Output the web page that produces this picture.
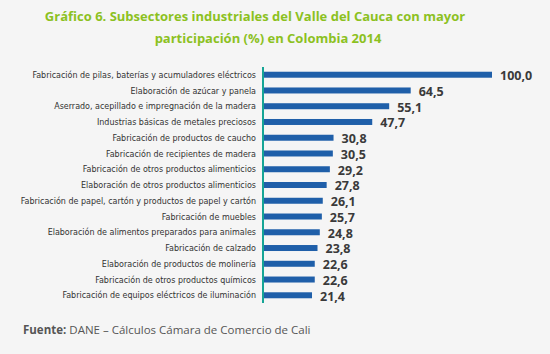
<!DOCTYPE html>
<html>
<head>
<meta charset="utf-8">
<script src="https://cdn.jsdelivr.net/npm/d3@7"></script>
<style>
  body { margin: 0; background: #f5f5f5; }
  svg { display: block; }
</style>
</head>
<body>
<div id="chart"></div>
<script>
const categories = [
  'Fabricación de pilas, baterías y acumuladores eléctricos',
  'Elaboración de azúcar y panela',
  'Aserrado, acepillado e impregnación de la madera',
  'Industrias básicas de metales preciosos',
  'Fabricación de productos de caucho',
  'Fabricación de recipientes de madera',
  'Fabricación de otros productos alimenticios',
  'Elaboración de otros productos alimenticios',
  'Fabricación de papel, cartón y productos de papel y cartón',
  'Fabricación de muebles',
  'Elaboración de alimentos preparados para animales',
  'Fabricación de calzado',
  'Elaboración de productos de molinería',
  'Fabricación de otros productos químicos',
  'Fabricación de equipos eléctricos de iluminación'
]
const values = [100.0, 64.5, 55.1, 47.7, 30.8, 30.5, 29.2, 27.8, 26.1, 25.7, 24.8, 23.8, 22.6, 22.6, 21.4]
const titleLines = [
  'Gráfico 6. Subsectores industriales del Valle del Cauca con mayor',
  'participación (%) en Colombia 2014'
]

const width = 550
const height = 354
const margin = { top: 67, left: 263, right: 58, bottom: 51 }

const svg = d3
  .select('#chart')
  .append('svg')
  .attr('width', width)
  .attr('height', height)
  .style('background', '#f5f5f5')

const x = d3
  .scaleLinear()
  .domain([0, 100])
  .range([margin.left, 492])

const y = d3
  .scaleBand()
  .domain(categories)
  .range([margin.top, height - margin.bottom])
  .paddingInner(0.62)
  .paddingOuter(0.3)

// title
svg
  .selectAll('.title')
  .data(titleLines)
  .enter()
  .append('text')
  .attr('class', 'title')
  .attr('x', (d, i) => (i === 0 ? 255 : 268))
  .attr('y', (d, i) => 21 + i * 22)
  .attr('text-anchor', 'middle')
  .attr('fill', '#8cc11f')
  .style('font-family', 'Open Sans')
  .style('font-weight', 'bold')
  .style('font-size', '13px')
  .text(d => d)

// bars
svg
  .selectAll('.bar')
  .data(values)
  .enter()
  .append('rect')
  .attr('class', 'bar')
  .attr('x', x(0))
  .attr('y', (d, i) => y(categories[i]))
  .attr('width', d => x(d) - x(0))
  .attr('height', y.bandwidth())
  .attr('fill', '#1f5fa9')

// category labels
svg
  .selectAll('.cat')
  .data(categories)
  .enter()
  .append('text')
  .attr('class', 'cat')
  .attr('x', margin.left - 7)
  .attr('y', d => y(d) + y.bandwidth() / 2)
  .attr('dy', '0.35em')
  .attr('text-anchor', 'end')
  .attr('fill', '#333')
  .style('font-family', 'DejaVu Sans Condensed')
  .style('font-size', '8.9px')
  .text(d => d)

// value labels
svg
  .selectAll('.val')
  .data(values)
  .enter()
  .append('text')
  .attr('class', 'val')
  .attr('x', d => x(d) + 8)
  .attr('y', (d, i) => y(categories[i]) + y.bandwidth() / 2 + 1)
  .attr('dy', '0.35em')
  .attr('fill', '#3a3a3a')
  .style('font-family', 'Open Sans')
  .style('font-weight', 'bold')
  .style('font-size', '12.5px')
  .text(d => d3.format('.1f')(d).replace('.', ','))

// axis line
svg
  .append('line')
  .attr('x1', x(0))
  .attr('x2', x(0))
  .attr('y1', margin.top)
  .attr('y2', height - margin.bottom)
  .attr('stroke', '#16a596')
  .attr('stroke-width', 2)

// source
const src = svg
  .append('text')
  .attr('x', 23)
  .attr('y', 334)
  .attr('fill', '#555')
  .style('font-family', 'Open Sans')
  .style('font-size', '11.5px')
src.append('tspan').style('font-weight', 'bold').text('Fuente: ')
src.append('tspan').text('DANE – Cálculos Cámara de Comercio de Cali')
</script>
</body>
</html>
